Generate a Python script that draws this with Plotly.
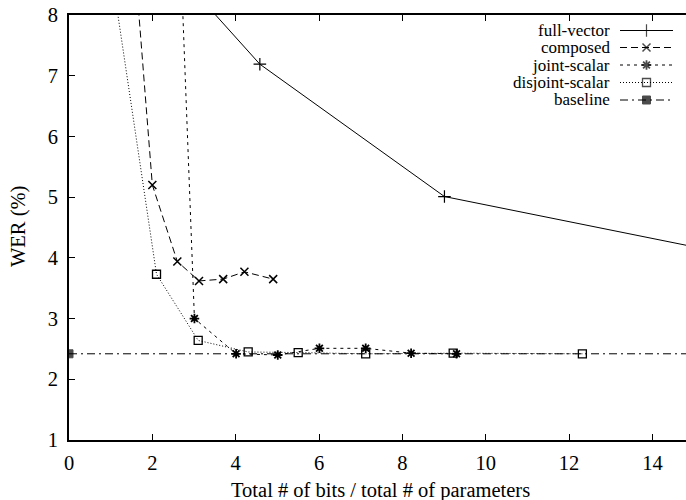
import plotly.graph_objects as go

# ---- data ----
full_x = [2.3, 4.58, 9.01, 17.9]
full_y = [8.93, 7.19, 5.01, 3.78]

comp_x = [1.5, 2.0, 2.6, 3.12, 3.70, 4.21, 4.90]
comp_y = [9.55, 5.20, 3.94, 3.62, 3.65, 3.77, 3.65]

joint_x = [2.6, 3.01, 4.01, 5.01, 6.01, 7.12, 8.21, 9.30]
joint_y = [10.4, 3.00, 2.42, 2.40, 2.51, 2.51, 2.43, 2.42]

disj_x = [1.0, 2.10, 3.10, 4.30, 5.50, 7.12, 9.22, 12.32]
disj_y = [8.8, 3.73, 2.64, 2.45, 2.44, 2.42, 2.43, 2.42]

base_x = [0, 20]
base_y = [2.42, 2.42]

x_ticks = [0, 2, 4, 6, 8, 10, 12, 14]
y_ticks = [1, 2, 3, 4, 5, 6, 7, 8]

names = ["full-vector", "composed", "joint-scalar", "disjoint-scalar", "baseline"]

FONT = "Liberation Serif, Times New Roman, serif"
FS = 20.5
LFS = 17
BLACK = "#000000"

# ---- styles ----
styles = [
    dict(dash="solid", symbol="cross-thin", size=9, lw=1.2),
    dict(dash="7px,4px", symbol="x-thin", size=8, lw=1.5),
    dict(dash="3px,4px", symbol="asterisk", size=8, lw=1.8),
    dict(dash="1px,2px", symbol="square-open", size=8, lw=1.3),
    dict(dash="8px,4px,2px,4px", symbol="square", size=8, lw=1),
]
series = [(full_x, full_y), (comp_x, comp_y), (joint_x, joint_y),
          (disj_x, disj_y), (base_x, base_y)]

fig = go.Figure()
for i, ((xs, ys), st) in enumerate(zip(series, styles)):
    if i == 4:
        msize = [st["size"]] + [0] * (len(xs) - 1)
    else:
        msize = st["size"]
    fig.add_trace(go.Scatter(
        x=xs, y=ys, mode="lines+markers", name=names[i], showlegend=False,
        line=dict(color=BLACK, width=1, dash=st["dash"]),
        marker=dict(symbol=st["symbol"], size=msize, color=BLACK,
                    line=dict(color=BLACK, width=st["lw"])),
        cliponaxis=True,
    ))

# ---- gnuplot-style key: text on the left, line sample on the right ----
L = 69
R = 686
T = 15
B = 440
leg_y = [30.5, 47.5, 65, 82.5, 100]
text_right = 611
s0, s1 = 620, 673
smid = (s0 + s1) / 2
annotations = []
for i, st in enumerate(styles):
    fig.add_trace(go.Scatter(
        x=[s0, smid, s1], y=[leg_y[i]] * 3, xaxis="x2", yaxis="y2",
        mode="lines+markers", showlegend=False, hoverinfo="skip",
        line=dict(color=BLACK, width=1, dash=st["dash"]),
        marker=dict(symbol=st["symbol"], size=[0, st["size"], 0], color=BLACK,
                    line=dict(color=BLACK, width=st["lw"])),
    ))
    annotations.append(dict(
        x=(text_right - L) / (R - L), y=(B - leg_y[i]) / (B - T),
        xref="paper", yref="paper", xanchor="right", yanchor="middle",
        text=names[i], showarrow=False, borderpad=0,
        font=dict(family=FONT, size=LFS, color=BLACK),
    ))

annotations.append(dict(
    x=(381 - L) / (R - L), y=(B - 490) / (B - T), xref="paper", yref="paper",
    xanchor="center", yanchor="middle", showarrow=False,
    text="Total # of bits / total # of parameters",
    font=dict(family=FONT, size=FS, color=BLACK)))
annotations.append(dict(
    x=(18 - L) / (R - L), y=(B - 226) / (B - T), xref="paper", yref="paper",
    xanchor="center", yanchor="middle", showarrow=False, textangle=-90,
    text="WER (%)", font=dict(family=FONT, size=FS, color=BLACK)))

fig.update_layout(
    width=686, height=500,
    margin=dict(l=L, r=0, t=T, b=500 - B, pad=0),
    paper_bgcolor="white", plot_bgcolor="white",
    font=dict(family=FONT, size=FS, color=BLACK),
    showlegend=False,
    annotations=annotations,
    xaxis=dict(range=[0, (R - L) / 41.67], tickvals=x_ticks, ticks="inside", ticklen=6,
               tickwidth=1, tickcolor=BLACK, showline=True, linecolor=BLACK,
               linewidth=2, mirror="allticks", showgrid=False, zeroline=False,
               ticklabelstandoff=3, tickfont=dict(family=FONT, size=FS)),
    yaxis=dict(range=[1, 8], tickvals=y_ticks, ticks="inside", ticklen=6,
               tickwidth=1, tickcolor=BLACK, showline=True, linecolor=BLACK,
               linewidth=2, mirror=False, showgrid=False, zeroline=False,
               ticklabelstandoff=5, tickfont=dict(family=FONT, size=FS)),
    xaxis2=dict(range=[L, R], overlaying="x", visible=False, fixedrange=True),
    yaxis2=dict(range=[B, T], overlaying="y", visible=False, fixedrange=True),
)

fig.write_html("out.html")
